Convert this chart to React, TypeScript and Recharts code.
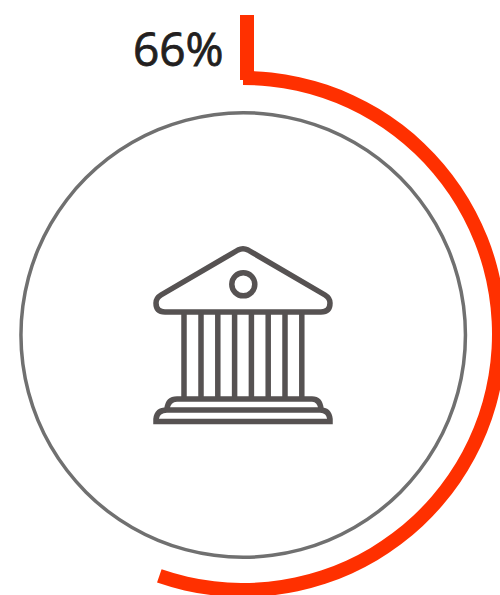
import React from "react";
import { PieChart, Pie, Cell } from "recharts";

const arcValues = [55.3, 44.7];
const arcColors = ["#ff3000", "transparent"];
const ringValues = [100];
const labelText = "66%";

// temple icon, plain svg on top of the chart
const ICON_COLOR = "#565252";
const columnX = [184, 201, 217.8, 234.6, 251.4, 268.2, 285, 301.8];

function TempleIcon() {
  return (
    <g fill="none" stroke={ICON_COLOR} strokeWidth={5.5} strokeLinejoin="round">
      <path d="M165 312 Q156 312 156 303 Q156 298 161 295 L238 250 Q243 247.5 248 250 L325 295 Q330 298 330 303 Q330 312 321 312 Z" />
      <circle cx={243.3} cy={284.3} r={11.5} />
      {columnX.map((x) => (
        <line key={x} x1={x} x2={x} y1={312} y2={399} />
      ))}
      <path d="M167 409 Q168 399 177 399 L312 399 Q320 399 321 409" />
      <path strokeLinejoin="miter" d="M156 421.5 L156 419 Q157 410 167 410 L320 410 Q329 410 330 419 L330 421.5 Z" />
    </g>
  );
}

export default function App() {
  return (
    <div style={{ position: "absolute", left: 0, top: 0, width: 500, height: 595, overflow: "hidden" }}>
      <PieChart width={500} height={595} margin={{ top: 0, right: 0, bottom: 0, left: 0 }}>
        <Pie
          data={ringValues.map((value) => ({ value }))}
          dataKey="value"
          cx={243.2}
          cy={335}
          innerRadius={220.5}
          outerRadius={224}
          startAngle={90}
          endAngle={-270}
          fill="#707070"
          stroke="none"
          isAnimationActive={false}
        />
        <Pie
          data={arcValues.map((value) => ({ value }))}
          dataKey="value"
          cx={243}
          cy={334}
          innerRadius={249}
          outerRadius={263}
          startAngle={90}
          endAngle={-270}
          stroke="none"
          isAnimationActive={false}
        >
          {arcValues.map((_, i) => (
            <Cell key={i} fill={arcColors[i]} />
          ))}
        </Pie>
        <rect x={240} y={15} width={14} height={65} fill="#ff3000" />
        <TempleIcon />
        <text
          x={133}
          y={66}
          fontFamily="'Open Sans', sans-serif"
          fontSize={46}
          fill="#231f20"
          stroke="#231f20"
          strokeWidth={0.8}
        >
          {labelText}
        </text>
      </PieChart>
    </div>
  );
}
